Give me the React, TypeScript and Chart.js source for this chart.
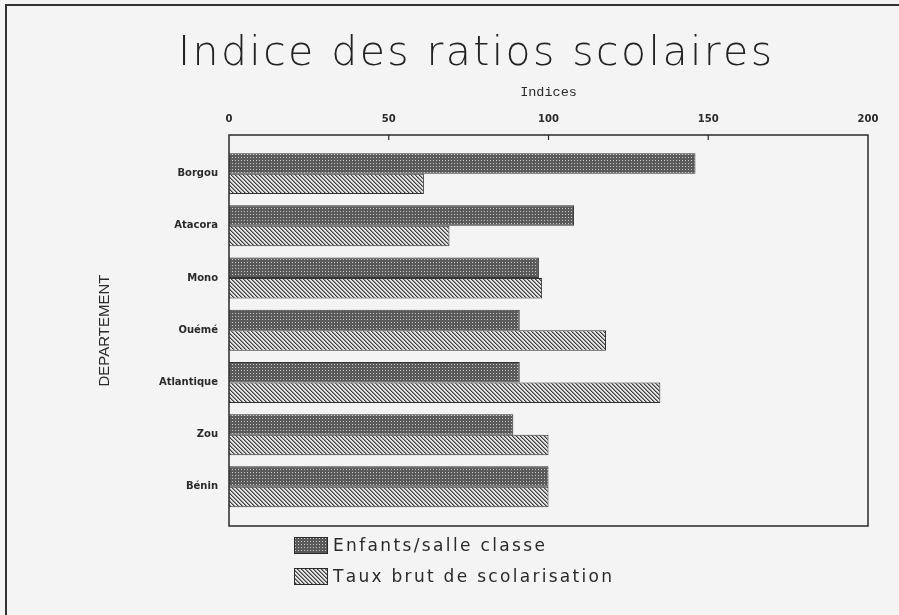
import React, { useEffect, useRef } from 'react';
import { Chart, registerables } from 'chart.js';

Chart.register(...registerables);

const departements = ['Borgou', 'Atacora', 'Mono', 'Ouémé', 'Atlantique', 'Zou', 'Bénin'];
const enfantsParSalle = [146, 108, 97, 91, 91, 89, 100];
const tauxBrut = [61, 69, 98, 118, 135, 100, 100];
const xTickValues = [0, 50, 100, 150, 200];
const seriesLabels = ['Enfants/salle classe', 'Taux brut de scolarisation'];
const chartTitle = 'Indice des ratios scolaires';
const xTitle = 'Indices';
const yTitle = 'DEPARTEMENT';

const W = 899;
const H = 615;
const BG = '#f4f4f4';
const INK = '#2a2a2a';

function makeDotPattern(ctx: CanvasRenderingContext2D): CanvasPattern {
  const c = document.createElement('canvas');
  c.width = 3;
  c.height = 3;
  const g = c.getContext('2d')!;
  g.fillStyle = '#5a5a5a';
  g.fillRect(0, 0, 3, 3);
  g.fillStyle = '#c8c8c8';
  g.fillRect(1, 1, 1, 1);
  return ctx.createPattern(c, 'repeat')!;
}

function makeHatchPattern(ctx: CanvasRenderingContext2D): CanvasPattern {
  const n = 4;
  const c = document.createElement('canvas');
  c.width = n;
  c.height = n;
  const g = c.getContext('2d')!;
  g.fillStyle = '#e4e4e4';
  g.fillRect(0, 0, n, n);
  for (let y = 0; y < n; y++) {
    for (let x = 0; x < n; x++) {
      const d = (((x - y) % n) + n) % n;
      if (d === 0) {
        g.fillStyle = '#3c3c3c';
        g.fillRect(x, y, 1, 1);
      } else if (d === 1) {
        g.fillStyle = '#909090';
        g.fillRect(x, y, 1, 1);
      }
    }
  }
  return ctx.createPattern(c, 'repeat')!;
}

// draws text spread evenly between x0 and x1 (plotter-like wide spacing)
function spreadText(c: CanvasRenderingContext2D, text: string, x0: number, x1: number, y: number) {
  const chars = Array.from(text);
  const widths = chars.map((ch) => c.measureText(ch).width);
  const natural = widths.reduce((s, w) => s + w, 0);
  const gap = (x1 - x0 - natural) / Math.max(1, chars.length - 1);
  let x = x0;
  c.textAlign = 'left';
  chars.forEach((ch, i) => {
    c.fillText(ch, x, y);
    x += widths[i] + gap;
  });
}

export default function App() {
  const ref = useRef<HTMLCanvasElement | null>(null);

  useEffect(() => {
    const canvas = ref.current;
    if (!canvas) return;
    const ctx = canvas.getContext('2d')!;
    const dots = makeDotPattern(ctx);
    const hatch = makeHatchPattern(ctx);
    const fills = [dots, hatch];

    const framePlugin = {
      id: 'frame',
      beforeDraw(chart: any) {
        const c = chart.ctx;
        c.save();
        c.fillStyle = BG;
        c.fillRect(0, 0, chart.width, chart.height);
        c.strokeStyle = '#333';
        c.lineWidth = 2;
        c.beginPath();
        c.moveTo(6, chart.height);
        c.lineTo(6, 5);
        c.lineTo(chart.width, 5);
        c.stroke();
        // main title
        c.fillStyle = '#222';
        c.font = '200 41px "DejaVu Sans"';
        c.textBaseline = 'alphabetic';
        spreadText(c, chartTitle, 178, 772, 65);
        c.restore();
      },
      afterDatasetsDraw(chart: any) {
        const c = chart.ctx;
        const a = chart.chartArea;
        const xs = chart.scales.x;
        c.save();
        c.strokeStyle = INK;
        c.lineWidth = 1.5;
        c.strokeRect(a.left, a.top, a.right - a.left, a.bottom - a.top);
        c.lineWidth = 1.2;
        xs.ticks.forEach((t: any) => {
          if (t.value <= xs.min || t.value >= xs.max) return;
          const px = xs.getPixelForValue(t.value);
          c.beginPath();
          c.moveTo(px, a.top);
          c.lineTo(px, a.top + 5);
          c.stroke();
        });
        c.restore();
      },
      afterDraw(chart: any) {
        const c = chart.ctx;
        const a = chart.chartArea;
        c.save();
        const boxX = 294;
        const boxW = 34;
        const boxH = 17;
        const rowGap = 31;
        const y0 = a.bottom + 11;
        const ends = [545, 612];
        chart.data.datasets.forEach((ds: any, i: number) => {
          const y = y0 + i * rowGap;
          c.fillStyle = ds.backgroundColor;
          c.fillRect(boxX, y, boxW, boxH);
          c.strokeStyle = INK;
          c.lineWidth = 1;
          c.strokeRect(boxX + 0.5, y + 0.5, boxW - 1, boxH - 1);
          c.fillStyle = INK;
          c.font = '17px "DejaVu Sans"';
          c.textBaseline = 'middle';
          spreadText(c, ds.label, boxX + boxW + 5, ends[i], y + boxH / 2 + 1);
        });
        c.restore();
      },
    };

    const chart = new Chart(canvas, {
      type: 'bar',
      data: {
        datasets: [
          {
            label: seriesLabels[0],
            data: departements.map((_, i) => ({ x: enfantsParSalle[i], y: i })),
            backgroundColor: fills[0] as any,
            borderColor: '#333',
            borderWidth: 1,
            categoryPercentage: 0.785,
            barPercentage: 1,
          },
          {
            label: seriesLabels[1],
            data: departements.map((_, i) => ({ x: tauxBrut[i], y: i })),
            backgroundColor: fills[1] as any,
            borderColor: '#333',
            borderWidth: 1,
            categoryPercentage: 0.785,
            barPercentage: 1,
          },
        ],
      },
      options: {
        indexAxis: 'y',
        animation: false,
        responsive: false,
        devicePixelRatio: 1,
        layout: { padding: { top: 81, left: 0, right: 31, bottom: 89 } },
        scales: {
          x: {
            type: 'linear',
            position: 'top',
            min: 0,
            max: 200,
            afterBuildTicks: (s: any) => {
              s.ticks = xTickValues.map((v) => ({ value: v }));
            },
            afterFit: (s: any) => {
              s.height = 54;
            },
            grid: { display: false, drawTicks: false },
            border: { display: false },
            ticks: {
              padding: 10,
              maxRotation: 0,
              autoSkip: false,
              color: INK,
              font: { family: 'DejaVu Sans', size: 10, weight: 'bold' },
            },
            title: {
              display: true,
              text: xTitle,
              color: INK,
              font: { family: 'Liberation Mono', size: 13.5 },
              padding: { top: 3, bottom: 0 },
            },
          },
          y: {
            type: 'linear',
            reverse: true,
            offset: false,
            min: -0.74,
            max: 6.75,
            afterBuildTicks: (s: any) => {
              s.ticks = departements.map((_, i) => ({ value: i }));
            },
            afterFit: (s: any) => {
              s.width = 229;
            },
            grid: { display: false, drawTicks: false, offset: false },
            border: { display: false },
            ticks: {
              padding: 11,
              autoSkip: false,
              color: INK,
              font: { family: 'DejaVu Sans', size: 10, weight: 'bold' },
              callback: (v: any) => departements[v as number] ?? '',
            },
            title: {
              display: true,
              text: yTitle,
              color: INK,
              font: { family: 'Liberation Sans', size: 15 },
              padding: { top: 96, bottom: 0 },
            },
          },
        },
        plugins: {
          legend: { display: false },
          tooltip: { enabled: false },
          title: { display: false },
        },
      } as any,
      plugins: [framePlugin],
    });

    return () => chart.destroy();
  }, []);

  return (
    <div style={{ position: 'fixed', left: 0, top: 0, width: W, height: H, background: BG }}>
      <canvas ref={ref} width={W} height={H} style={{ display: 'block', width: W, height: H }} />
    </div>
  );
}
